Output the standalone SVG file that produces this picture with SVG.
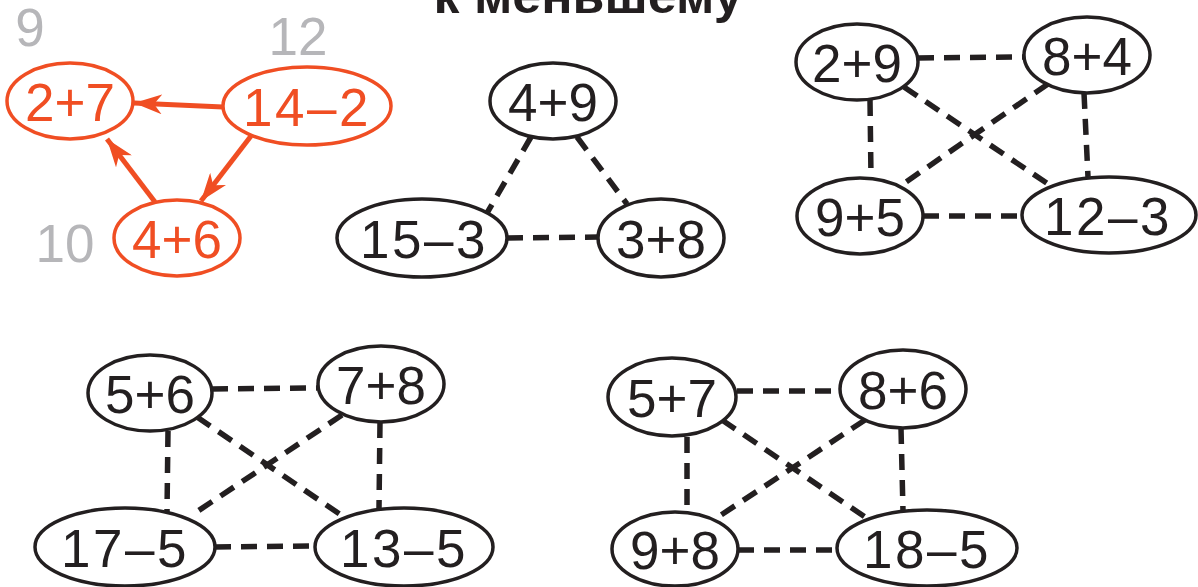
<svg xmlns="http://www.w3.org/2000/svg" width="1198" height="587" viewBox="0 0 1198 587">
<style>
  .n ellipse { fill: #fff; stroke: #231f20; stroke-width: 3.5; }
  .n text { font-family: "Liberation Sans", Arial, sans-serif; font-size: 53px; fill: #231f20; text-anchor: middle; }
  .r ellipse { fill: #fff; stroke: #f04e23; stroke-width: 3.5; }
  .r text { font-family: "Liberation Sans", Arial, sans-serif; font-size: 53px; fill: #f04e23; text-anchor: middle; }
  text.w { letter-spacing: 2.5px; }
  .g { font-family: "Liberation Sans", Arial, sans-serif; font-size: 53px; fill: #b6b6b9; text-anchor: middle; }
  .d line { stroke: #231f20; stroke-width: 5.5; stroke-dasharray: 16 10; }
  .a line { stroke: #f04e23; stroke-width: 5; }
  .title { font-family: "Liberation Sans", Arial, sans-serif; font-weight: bold; font-size: 50px; fill: #231f20; text-anchor: middle; }
</style>
<defs>
  <marker id="ah" markerUnits="userSpaceOnUse" markerWidth="30" markerHeight="20" refX="28" refY="10" orient="auto">
    <path d="M0,0 L28,10 L0,20 L8,10 Z" fill="#f04e23"/>
  </marker>
</defs>
<rect width="1198" height="587" fill="#fff"/>
<text class="title" x="588" y="13" textLength="309" lengthAdjust="spacingAndGlyphs">к меньшему</text>

<g id="connectors">
  <g class="a">
    <line x1="223" y1="107" x2="134" y2="103" marker-end="url(#ah)"/>
    <line x1="251" y1="136" x2="201" y2="201" marker-end="url(#ah)"/>
    <line x1="155" y1="202" x2="107" y2="139" marker-end="url(#ah)"/>
  </g>
  <g class="d">
    <line x1="531" y1="137" x2="487" y2="213"/>
    <line x1="577" y1="137" x2="627" y2="204"/>
    <line x1="507" y1="238" x2="598" y2="237"/>

    <line x1="918" y1="58" x2="1024" y2="57"/>
    <line x1="870" y1="100" x2="871" y2="177"/>
    <line x1="1084" y1="93" x2="1088" y2="177"/>
    <line x1="904" y1="87" x2="1048" y2="184"/>
    <line x1="1048" y1="84" x2="903" y2="184"/>
    <line x1="923" y1="216" x2="1021" y2="216"/>

    <line x1="212" y1="389" x2="317" y2="388"/>
    <line x1="168" y1="431" x2="167" y2="512"/>
    <line x1="380" y1="422" x2="379" y2="508"/>
    <line x1="197" y1="417" x2="341" y2="515"/>
    <line x1="342" y1="415" x2="195" y2="513"/>
    <line x1="215" y1="547" x2="314" y2="546"/>

    <line x1="737" y1="391" x2="840" y2="391"/>
    <line x1="687" y1="437" x2="687" y2="512"/>
    <line x1="901" y1="428" x2="903" y2="511"/>
    <line x1="722" y1="420" x2="865" y2="517"/>
    <line x1="865" y1="420" x2="718" y2="517"/>
    <line x1="738" y1="550" x2="837" y2="550"/>
  </g>
</g>

<text class="g" x="30" y="46">9</text>
<text class="g" x="298" y="55">12</text>
<text class="g" x="65" y="262">10</text>

<g id="n-2p7" class="r"><ellipse cx="70" cy="101" rx="63" ry="38"/><text x="70" y="121">2+7</text></g>
<g id="n-14m2" class="r"><ellipse cx="307" cy="106" rx="84" ry="39"/><text class="w" x="307" y="126">14–2</text></g>
<g id="n-4p6" class="r"><ellipse cx="177" cy="238" rx="63" ry="38"/><text x="177" y="258">4+6</text></g>

<g id="n-4p9" class="n"><ellipse cx="553" cy="101" rx="63" ry="38"/><text x="553" y="121">4+9</text></g>
<g id="n-15m3" class="n"><ellipse cx="422" cy="238" rx="85" ry="39"/><text class="w" x="424" y="258">15–3</text></g>
<g id="n-3p8" class="n"><ellipse cx="661" cy="238" rx="63" ry="39"/><text x="661" y="258">3+8</text></g>

<g id="n-2p9" class="n"><ellipse cx="857" cy="62" rx="61" ry="38"/><text x="857" y="82">2+9</text></g>
<g id="n-8p4" class="n"><ellipse cx="1087" cy="55" rx="63" ry="38"/><text x="1087" y="75">8+4</text></g>
<g id="n-9p5" class="n"><ellipse cx="860" cy="216" rx="63" ry="38"/><text x="860" y="236">9+5</text></g>
<g id="n-12m3" class="n"><ellipse cx="1109" cy="215" rx="87" ry="38"/><text class="w" x="1108" y="235">12–3</text></g>

<g id="n-5p6" class="n"><ellipse cx="150" cy="393" rx="62" ry="38"/><text x="150" y="413">5+6</text></g>
<g id="n-7p8" class="n"><ellipse cx="381" cy="384" rx="63" ry="38"/><text x="381" y="404">7+8</text></g>
<g id="n-17m5" class="n"><ellipse cx="125" cy="547" rx="90" ry="39"/><text class="w" x="125" y="567">17–5</text></g>
<g id="n-13m5" class="n"><ellipse cx="404" cy="547" rx="89" ry="39"/><text class="w" x="404" y="567">13–5</text></g>

<g id="n-5p7" class="n"><ellipse cx="672" cy="397" rx="64" ry="39"/><text x="672" y="417">5+7</text></g>
<g id="n-8p6" class="n"><ellipse cx="903" cy="389" rx="63" ry="39"/><text x="903" y="409">8+6</text></g>
<g id="n-9p8" class="n"><ellipse cx="675" cy="549" rx="63" ry="37"/><text x="675" y="569">9+8</text></g>
<g id="n-18m5" class="n"><ellipse cx="927" cy="548" rx="90" ry="38"/><text class="w" x="927" y="568">18–5</text></g>
</svg>
